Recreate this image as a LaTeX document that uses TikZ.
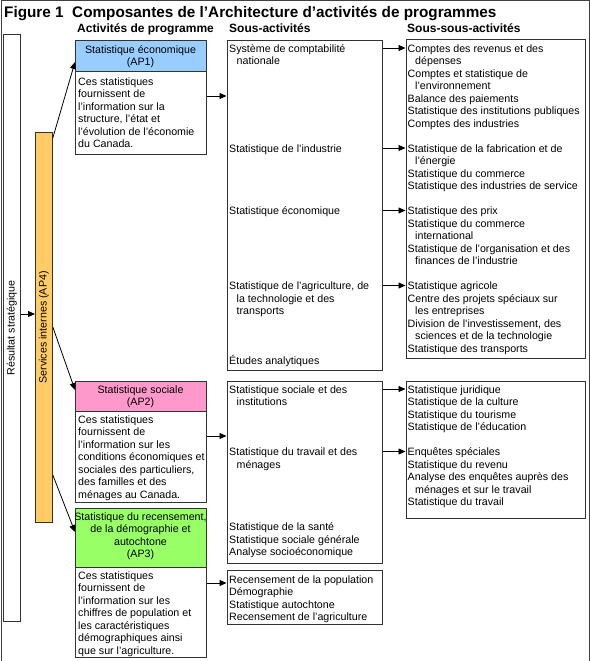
\documentclass[tikz,border=0pt]{standalone}
\usepackage{fontspec}
\setmainfont{Liberation Sans}
\usetikzlibrary{arrows.meta}
\definecolor{apblue}{HTML}{99CCFF}
\definecolor{appink}{HTML}{FF99CC}
\definecolor{apgreen}{HTML}{99FF66}
\definecolor{aporange}{HTML}{FFCC66}
\newcommand\fs{\fontsize{10.67pt}{12.5pt}\selectfont}
\newcommand\st{\rule{0pt}{10pt}}
\newcommand\ind{\hspace*{7.5pt}}
\begin{document}
\begin{tikzpicture}[x=1pt,y=-1pt,
  box/.style={draw=black!80, line width=0.8pt, inner sep=0pt, anchor=north west},
  txt/.style={anchor=north west, inner sep=0pt, align=left, font=\fs},
  ctxt/.style={anchor=north, inner sep=0pt, align=center, font=\fs},
  hdr/.style={anchor=base west, inner sep=0pt, font=\fontsize{12pt}{14pt}\selectfont\bfseries},
  arr/.style={draw=black, line width=0.8pt, -{Triangle[length=7pt,width=6pt]}}]
\useasboundingbox (0,0) rectangle (589,661);
% frame
\node[box, draw=black!75, minimum width=588pt, minimum height=660pt] (frame) at (0.5,0.5) {};
% title and headers
\node[anchor=base west, inner sep=0pt, font=\fontsize{15.3pt}{18pt}\selectfont\bfseries] (title) at (4,17.5) {Figure 1\ \ Composantes de l’Architecture d’activités de programmes};
\node[hdr] (h1) at (77,32.5) {Activités de programme};
\node[hdr] (h2) at (229,32.5) {Sous-activités};
\node[hdr] (h3) at (407,32.5) {Sous-sous-activités};
% left bars
\node[box, minimum width=17pt, minimum height=587pt] (res) at (3,34) {};
\node[rotate=90, font=\fs, inner sep=0pt] (restxt) at (res.center) {Résultat stratégique};
\node[box, fill=aporange, minimum width=17pt, minimum height=390pt] (ap4) at (35,132) {};
\node[rotate=90, font=\fs, inner sep=0pt] (ap4txt) at (ap4.center) {Services internes (AP4)};
% AP boxes
\node[box, fill=apblue, minimum width=131pt, minimum height=31pt] (ap1h) at (75,40) {};
\node[box, minimum width=131pt, minimum height=83pt] (ap1d) at (75,71) {};
\node[box, fill=appink, minimum width=131pt, minimum height=30pt] (ap2h) at (75,381) {};
\node[box, minimum width=131pt, minimum height=91pt] (ap2d) at (75,411) {};
\node[box, fill=apgreen, minimum width=131pt, minimum height=59pt] (ap3h) at (75,508) {};
\node[box, minimum width=131pt, minimum height=90pt] (ap3d) at (75,567) {};
\node[ctxt] (ap1ht) at (140.5,43) {\st Statistique économique\\(AP1)};
\node[txt] (ap1dt) at (78,75) {\st Ces statistiques\\fournissent de\\l’information sur la\\structure, l’état et\\l’évolution de l’économie\\du Canada.};
\node[ctxt] (ap2ht) at (140.5,383) {\st Statistique sociale\\(AP2)};
\node[txt] (ap2dt) at (78,413) {\st Ces statistiques\\fournissent de\\l'information sur les\\conditions économiques et\\sociales des particuliers,\\des familles et des\\ménages au Canada.};
\node[ctxt] (ap3ht) at (140.5,510) {\st Statistique du recensement,\\de la démographie et\\autochtone\\(AP3)};
\node[txt] (ap3dt) at (78,569) {\st Ces statistiques\\fournissent de\\l'information sur les\\chiffres de population et\\les caractéristiques\\démographiques ainsi\\que sur l’agriculture.};
% sub-activity boxes
\node[box, minimum width=155.5pt, minimum height=330pt] (sub1) at (226.5,40) {};
\node[box, minimum width=155.5pt, minimum height=182pt] (sub2) at (226.5,381) {};
\node[box, minimum width=155.5pt, minimum height=54pt] (sub3) at (226.5,570) {};
\node[txt] (s11) at (229,42) {\st Système de comptabilité\\\ind nationale};
\node[txt] (s12) at (229,142) {\st Statistique de l'industrie};
\node[txt] (s13) at (229,204.5) {\st Statistique économique};
\node[txt] (s14) at (229,279.5) {\st Statistique de l'agriculture, de\\\ind la technologie et des\\\ind transports};
\node[txt] (s15) at (229,354.5) {\st Études analytiques};
\node[txt] (s21) at (229,383) {\st Statistique sociale et des\\\ind institutions};
\node[txt] (s22) at (229,445.5) {\st Statistique du travail et des\\\ind ménages};
\node[txt] (s23) at (229,520.5) {\st Statistique de la santé\\Statistique sociale générale\\Analyse socioéconomique};
\node[txt] (s31) at (229,573) {\st Recensement de la population\\Démographie\\Statistique autochtone\\Recensement de l’agriculture};
% sous-sous boxes
\node[box, minimum width=179pt, minimum height=318.5pt] (ss1) at (405.5,39.5) {};
\node[box, minimum width=179pt, minimum height=137pt] (ss2) at (405.5,381) {};
\node[txt] (ss11) at (407.5,42) {\st Comptes des revenus et des\\\ind dépenses\\Comptes et statistique de\\\ind l'environnement\\Balance des paiements\\Statistique des institutions publiques\\Comptes des industries};
\node[txt] (ss12) at (407.5,142) {\st Statistique de la fabrication et de\\\ind l'énergie\\Statistique du commerce\\Statistique des industries de service};
\node[txt] (ss13) at (407.5,204.5) {\st Statistique des prix\\Statistique du commerce\\\ind international\\Statistique de l’organisation et des\\\ind finances de l’industrie};
\node[txt] (ss14) at (407.5,279.5) {\st Statistique agricole\\Centre des projets spéciaux sur\\\ind les entreprises\\Division de l’investissement, des\\\ind sciences et de la technologie\\Statistique des transports};
\node[txt] (ss21) at (407.5,383) {\st Statistique juridique\\Statistique de la culture\\Statistique du tourisme\\Statistique de l’éducation};
\node[txt] (ss22) at (407.5,445.5) {\st Enquêtes spéciales\\Statistique du revenu\\Analyse des enquêtes auprès des\\\ind ménages et sur le travail\\Statistique du travail};
% arrows
\draw[arr] (res.east |- 0,314) -- (ap4.west |- 0,314);
\draw[arr] (ap4.east |- 0,138) -- (ap1h.west |- 0,62);
\draw[arr] (ap4.east |- 0,327) -- (ap2h.west |- 0,390);
\draw[arr] (ap4.east |- 0,475) -- (ap3h.west |- 0,532);
\draw[arr] (ap1d.east |- 0,96) -- (sub1.west |- 0,96);
\draw[arr] (ap2d.east |- 0,436) -- (sub2.west |- 0,436);
\draw[arr] (ap3d.east |- 0,583) -- (sub3.west |- 0,583);
\draw[arr] (sub1.east |- 0,48) -- (ss1.west |- 0,48);
\draw[arr] (sub1.east |- 0,148) -- (ss1.west |- 0,148);
\draw[arr] (sub1.east |- 0,210.5) -- (ss1.west |- 0,210.5);
\draw[arr] (sub1.east |- 0,285.5) -- (ss1.west |- 0,285.5);
\draw[arr] (sub2.east |- 0,389) -- (ss2.west |- 0,389);
\draw[arr] (sub2.east |- 0,451.5) -- (ss2.west |- 0,451.5);
\end{tikzpicture}
\end{document}
